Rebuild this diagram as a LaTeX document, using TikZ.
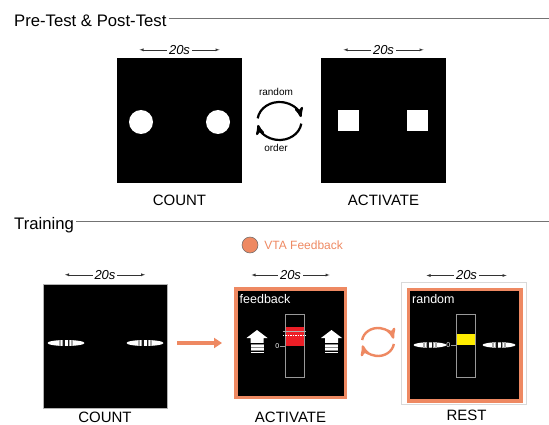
\documentclass[tikz,border=0pt]{standalone}
\usepackage{fontspec}
\setmainfont{Liberation Sans}
\usetikzlibrary{arrows,arrows.meta,positioning,shapes.geometric}
\definecolor{salmon}{RGB}{238,137,98}
\definecolor{barred}{RGB}{236,30,38}
\definecolor{baryellow}{RGB}{255,236,0}

\begin{document}
\begin{tikzpicture}[x=1pt,y=1pt,>=stealth',
	screen/.style={rectangle,fill=black,inner sep=0pt,minimum size=#1},
	fb screen/.style={rectangle,fill=black,draw=salmon,line width=3.5pt,inner sep=0pt},
	section/.style={font=\fontsize{16.7}{18}\selectfont,anchor=base west,inner sep=0pt},
	rule/.style={draw=black!55,line width=0.7pt},
	caption/.style={font=\fontsize{15}{17}\selectfont},
	span/.style={latex-latex,line width=0.4pt,draw=black!80},
	dur/.style={midway,fill=white,inner sep=2pt,font=\fontsize{13}{15}\selectfont\itshape},
	small lbl/.style={font=\fontsize{10}{12}\selectfont,inner sep=0pt},
	screen text/.style={text=white,anchor=base west,inner sep=0pt,font=\fontsize{12.5}{14}\selectfont},
	swap/.style={line width=2.2pt},
	pill/.style={ellipse,fill=white,inner sep=0pt},
	bar/.style={rectangle,draw=black!40,line width=0.6pt,minimum width=19pt,minimum height=63pt,inner sep=0pt},
	level/.style={rectangle,inner sep=0pt,minimum width=19pt,anchor=south},
	zero lbl/.style={text=white,inner sep=0.6pt,font=\fontsize{7}{8}\selectfont},
	fb arrow/.style={draw=salmon,line width=3.5pt,-{Triangle[length=8pt,width=10pt]},shorten <=10pt,shorten >=12pt}]

	\useasboundingbox (0,0) rectangle (549,-425);

	% headers
	\node[section] (pre) at (14,-27) {Pre-Test \& Post-Test};
	\coordinate (preend) at (549,-18.5);
	\draw[rule] ([xshift=2pt]pre.east |- preend) -- (preend);
	\node[section] (train) at (14,-229) {Training};
	\coordinate (trainend) at (549,-221.5);
	\draw[rule] ([xshift=2pt]train.east |- trainend) -- (trainend);

	% pre-test and post-test
	\node[screen=125pt] (count1) at (179.5,-120.5) {};
	\node[screen=125pt] (act1) at (383.5,-120.5) {};
	\node[circle,fill=white,minimum size=24pt,inner sep=0pt] (dotL) at (141,-122) {};
	\node[circle,fill=white,minimum size=24pt,inner sep=0pt] (dotR) at (218,-122) {};
	\node[rectangle,fill=white,minimum size=21pt,inner sep=0pt] (sqL) at (348.5,-120.5) {};
	\node[rectangle,fill=white,minimum size=21pt,inner sep=0pt] (sqR) at (417,-120.5) {};
	\node[caption,below=8pt of count1] (countcap1) {COUNT};
	\node[caption,below=8pt of act1] (actcap1) {ACTIVATE};
	\draw[span] ([shift={(-40pt,8pt)}]count1.north) -- node[dur] (dur1) {20s} ([shift={(40pt,8pt)}]count1.north);
	\draw[span] ([shift={(-40pt,8pt)}]act1.north) -- node[dur] (dur2) {20s} ([shift={(40pt,8pt)}]act1.north);

	\coordinate (swap1) at (279.5,-121);
	\node[small lbl] (rnd) at (276,-92) {random};
	\node[small lbl] (ord) at (276,-148) {order};
	\draw[swap,->] (swap1) ++(172:22pt and 19pt) arc[start angle=172,end angle=12,x radius=22pt,y radius=19pt];
	\draw[swap,->] (swap1) ++(-8:22pt and 19pt) arc[start angle=-8,end angle=-168,x radius=22pt,y radius=19pt];

	% training
	\node[circle,fill=salmon,draw=black!60,line width=0.5pt,minimum size=16pt,inner sep=0pt] (vta) at (250,-245) {};
	\node[right=6pt of vta,inner sep=0pt,text=salmon,font=\fontsize{12}{14}\selectfont] (vtatext) {VTA Feedback};

	\node[screen=124pt,draw=black!30,line width=0.5pt] (count2) at (105,-346) {};
	\node[fb screen,minimum width=109.5pt,minimum height=108.5pt] (act2) at (290.5,-343) {};
	\draw[black!15,line width=0.6pt] (401.5,-282.5) rectangle (526.5,-404.5);
	\node[fb screen,minimum width=112.5pt,minimum height=111.5pt] (rest2) at (464.5,-345) {};

	\draw[span] ([shift={(-40pt,9pt)}]count2.north) -- node[dur] (dur3) {20s} ([shift={(40pt,9pt)}]count2.north);
	\draw[span] ([shift={(-39pt,12pt)}]act2.north) -- node[dur] (dur4) {20s} ([shift={(39pt,12pt)}]act2.north);
	\draw[span] ([shift={(-38pt,12pt)}]rest2.north) -- node[dur] (dur5) {20s} ([shift={(42pt,12pt)}]rest2.north);

	\node[caption,below=0pt of count2] (countcap2) {COUNT};
	\node[caption,below=9pt of act2] (actcap2) {ACTIVATE};
	\node[caption,below=3.5pt of rest2,xshift=2pt] (restcap2) {REST};

	\draw[fb arrow] (count2.east |- act2) -- (act2);

	\coordinate (swap2) at (378,-342);
	\draw[swap,salmon,line width=2.4pt,->] (swap2) ++(172:16pt and 14pt) arc[start angle=172,end angle=14,x radius=16pt,y radius=14pt];
	\draw[swap,salmon,line width=2.4pt,->] (swap2) ++(-8:16pt and 14pt) arc[start angle=-8,end angle=-166,x radius=16pt,y radius=14pt];

	% screen contents
	\node[screen text] (fbtext) at (239.5,-303) {feedback};
	\node[screen text] (rndtext) at (412,-303) {random};

	\node[pill,minimum width=37pt,minimum height=6pt] (pill1) at (66,-343) {};
	\node[pill,minimum width=37pt,minimum height=6pt] (pill2) at (145,-343) {};
	\node[pill,minimum width=33pt,minimum height=5.5pt] (pill3) at (430,-345) {};
	\node[pill,minimum width=33pt,minimum height=5.5pt] (pill4) at (499,-345) {};
	\foreach \p in {pill1,pill2,pill3,pill4}{
		\fill[black!35] ([xshift=-7pt,yshift=-3pt]\p.center) rectangle ++(1.6pt,6pt);
		\fill[black!35] ([xshift=-4.4pt,yshift=-3pt]\p.center) rectangle ++(1.2pt,6pt);
		\fill[black!90] ([xshift=-2.6pt,yshift=-3pt]\p.center) rectangle ++(1.1pt,6pt);
		\fill[black!90] ([xshift=1.5pt,yshift=-3pt]\p.center) rectangle ++(1.1pt,6pt);
		\fill[black!35] ([xshift=3.2pt,yshift=-3pt]\p.center) rectangle ++(1.2pt,6pt);
		\fill[black!35] ([xshift=5.4pt,yshift=-3pt]\p.center) rectangle ++(1.6pt,6pt);
	}

	\coordinate (upL) at (257,-330);
	\coordinate (upR) at (331.5,-330);
	\foreach \a in {upL,upR}{
		\fill[white] (\a) -- ++(10.5pt,-8pt) -- ++(-4pt,0) -- ++(0,-4.8pt) -- ++(-13pt,0) -- ++(0,4.8pt) -- ++(-4pt,0) -- cycle;
		\foreach \s in {13.6,16.9,20.2}
			\fill[black!45] ([shift={(-6.5pt,-\s pt)}]\a) rectangle ++(13pt,-0.8pt);
		\foreach \s in {15,18.3,21.6}
			\fill[white] ([shift={(-6.5pt,-\s pt)}]\a) rectangle ++(13pt,-1.6pt);
	}

	\node[level,fill=barred,minimum height=19pt] (lvlA) at (294.5,-346) {};
	\node[bar] (barA) at (294.5,-345.5) {};
	\draw[black!30,line width=0.6pt] ([xshift=-2pt]barA.west |- 0,-331.5) -- ([xshift=2pt]barA.east |- 0,-331.5);
	\draw[white,line width=0.6pt,dash pattern=on 1.5pt off 1pt] ([xshift=-2pt]barA.west |- 0,-335) -- ([xshift=2pt]barA.east |- 0,-335);
	\draw[black!40,line width=0.6pt] (barA.west |- lvlA.south) -- ++(-4.5pt,0) node[left,zero lbl] (zeroA) {0};

	\node[level,fill=baryellow,minimum height=11pt] (lvlB) at (465.5,-345) {};
	\node[bar] (barB) at (465.5,-345.5) {};
	\draw[black!40,line width=0.6pt] (barB.west |- lvlB.south) -- ++(-4.5pt,0) node[left,zero lbl] (zeroB) {0};
\end{tikzpicture}
\end{document}
